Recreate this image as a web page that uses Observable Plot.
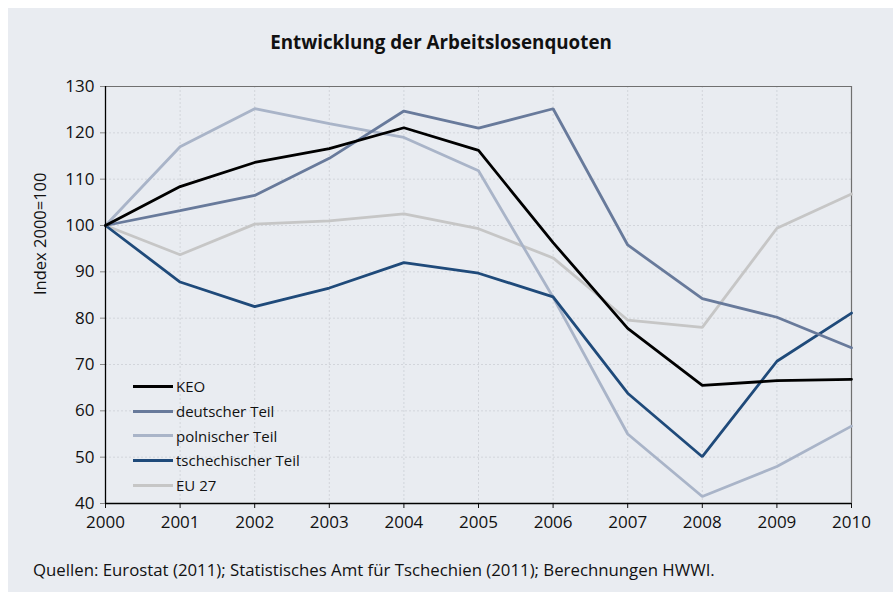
<!DOCTYPE html>
<html><head><meta charset="utf-8">
<script src="https://cdn.jsdelivr.net/npm/d3@7"></script>
<script src="https://cdn.jsdelivr.net/npm/@observablehq/plot@0.6"></script>
<style>
body{margin:0;background:#fff;font-family:"Open Sans",sans-serif;}
#panel{position:absolute;left:8px;top:8px;width:885px;height:584px;background:#e9ecf1;overflow:hidden;}
#title{position:absolute;left:0;width:866px;top:21px;text-align:center;font-weight:bold;font-size:18.8px;color:#111;}
#caption{position:absolute;left:25px;top:550px;font-size:16.8px;color:#111;}
#chart{position:absolute;left:0;top:0;}
#legend{position:absolute;left:125px;top:366px;font-size:15px;color:#111;}
.row{height:24.7px;display:flex;align-items:center;}
.sw{width:40px;height:3px;margin-right:3px;}
</style></head>
<body>
<div id="panel">
<div id="chart"></div>
<div id="title">Entwicklung der Arbeitslosenquoten</div>
<div id="legend"></div>
<div id="caption">Quellen: Eurostat (2011); Statistisches Amt für Tschechien (2011); Berechnungen HWWI.</div>
</div>
<script>
const years = [2000,2001,2002,2003,2004,2005,2006,2007,2008,2009,2010];
const seriesNames = ["KEO","deutscher Teil","polnischer Teil","tschechischer Teil","EU 27"];
const keo      = [100,108.4,113.6,116.6,121.1,116.2,96.3,77.8,65.5,66.5,66.8];
const deutsch  = [100,103.2,106.5,114.5,124.7,121.0,125.2,95.8,84.2,80.2,73.6];
const polnisch = [100,117.0,125.2,122.0,119.0,111.8,84.5,55.0,41.5,48.0,56.7];
const tschech  = [100,87.8,82.5,86.5,92.0,89.7,84.6,63.8,50.1,70.7,81.1];
const eu27     = [100,93.7,100.3,101.0,102.5,99.3,93.0,79.6,78.0,99.4,106.8];
const yTicks = [40,50,60,70,80,90,100,110,120,130];
const colors = ["#000000","#687a9b","#a9b4c8","#1f4a7a","#c6c6c6"];

const allSeries = [keo,deutsch,polnisch,tschech,eu27];
const data = [];
allSeries.forEach((vals,i)=>vals.forEach((v,j)=>data.push({series:seriesNames[i],year:years[j],value:v})));
const order = ["EU 27","polnischer Teil","tschechischer Teil","deutscher Teil","KEO"];

const chart = Plot.plot({
  width:885, height:584,
  marginLeft:97, marginRight:42, marginTop:78, marginBottom:89,
  style:{background:"transparent",fontFamily:"'Open Sans',sans-serif",fontSize:"17px",color:"#111"},
  x:{domain:[2000,2010]},
  y:{domain:[40,130]},
  color:{domain:seriesNames, range:colors},
  marks:[
    Plot.gridY(yTicks,{stroke:"#d2d5db",strokeOpacity:1,strokeDasharray:"2,2"}),
    Plot.gridX(years,{stroke:"#d2d5db",strokeOpacity:1,strokeDasharray:"2,2"}),
    Plot.ruleY([130],{stroke:"#707070",strokeWidth:1.2}),
    Plot.ruleX([2010],{stroke:"#707070",strokeWidth:1.2}),
    Plot.axisY(yTicks,{tickSize:5,tickPadding:6,stroke:"#888",label:null,fontSize:17}),
    Plot.axisX(years,{tickSize:5,tickPadding:7,tickFormat:d=>String(d),label:null,fontSize:17}),
    ...order.map(s=>Plot.line(data.filter(d=>d.series===s),{x:"year",y:"value",stroke:"series",strokeWidth:2.8,strokeLinejoin:"miter"})),
    Plot.ruleX([2000],{stroke:"#000",strokeWidth:1.3}),
    Plot.ruleY([40],{stroke:"#000",strokeWidth:1.3}),
    Plot.text(["Index 2000=100"],{frameAnchor:"left",dx:-65,rotate:-90,fontSize:16.5,fill:"#111"})
  ]
});
document.getElementById("chart").appendChild(chart);

const leg = document.getElementById("legend");
seriesNames.forEach((s,i)=>{
  const r=document.createElement("div");r.className="row";
  r.innerHTML=`<div class="sw" style="background:${colors[i]}"></div><span>${s}</span>`;
  leg.appendChild(r);
});
</script>
</body></html>
